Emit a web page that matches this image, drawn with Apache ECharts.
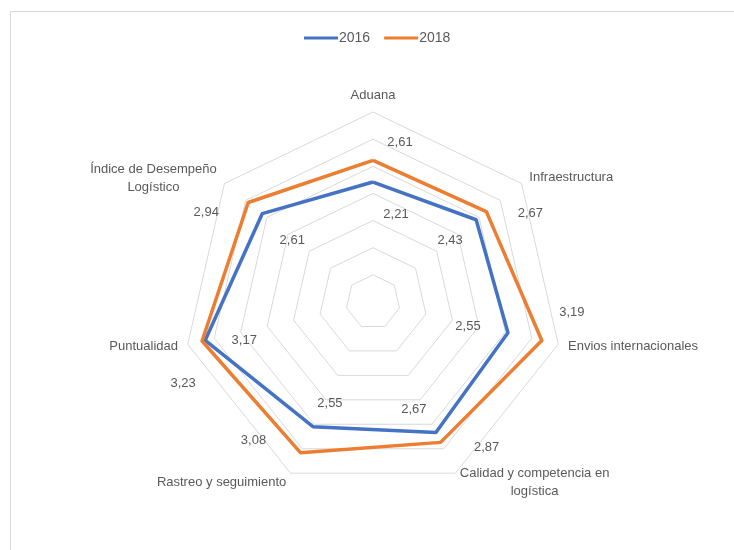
<!DOCTYPE html>
<html>
<head>
<meta charset="utf-8">
<script src="https://cdn.jsdelivr.net/npm/echarts@6/dist/echarts.min.js"></script>
<style>
  html, body { margin: 0; padding: 0; background: #fff; }
  #main { width: 734px; height: 550px; }
</style>
</head>
<body>
<div id="main"></div>
<script>
// indicadores en orden horario empezando por arriba
let indicadores = ['Aduana', 'Infraestructura', 'Envios internacionales',
    'Calidad y competencia en\nlogística', 'Rastreo y seguimiento', 'Puntualidad',
    'Índice de Desempeño\nLogístico'];
let valores2016 = [2.21, 2.43, 2.55, 2.67, 2.55, 3.17, 2.61];
let valores2018 = [2.61, 2.67, 3.19, 2.87, 3.08, 3.23, 2.94];
let anios = ['2016', '2018'];

// echarts pone los indicadores en sentido antihorario, asi que se reordenan
let orden = [0, 6, 5, 4, 3, 2, 1];
let reord = arr => orden.map(i => arr[i]);

let cx = 373, cy = 302;
// desplazamiento de cada etiqueta respecto a su vertice [dx, dy], por serie
let offsets = [
    [[23, 32], [-26, 21], [-40, -6], [-22, -23], [17, -23], [39, 0], [30, 27]],
    [[27, -18], [44, 2], [30, -28], [46, 5], [-47, -12], [-19, 42], [-42, 10]]
];

var myChart = echarts.init(document.getElementById('main'));

function etiquetaLayout(p) {
    let vx = p.rect.x + p.rect.width / 2;
    let vy = p.rect.y + p.rect.height / 2;
    let a = Math.atan2(vx - cx, -(vy - cy)) * 180 / Math.PI;
    if (a < 0) a += 360;
    let k = Math.round(a / (360 / 7)) % 7;
    let o = offsets[p.seriesIndex][k];
    return { x: vx + o[0], y: vy + o[1], align: 'center', verticalAlign: 'middle' };
}

// nombres de dos lineas: segunda linea centrada bajo la primera
function nombreEje(name) {
    let partes = name.split('\n');
    if (partes.length < 2) return name;
    if (name.indexOf('Índice') === 0) {
        return '{a|' + partes[0] + '}\n{b|' + partes[1] + '}';
    }
    return '{c|' + partes[0] + '}\n{d|' + partes[1] + '}';
}
let txt = { color: '#595959', fontSize: 13, fontFamily: 'Liberation Sans' };

let colores = ['#4472C4', '#ED7D31'];
let series = [valores2016, valores2018].map((vals, s) => ({
    type: 'radar',
    name: anios[s],
    symbol: 'circle',
    symbolSize: 1,
    itemStyle: { color: colores[s] },
    lineStyle: { color: colores[s], width: 3.5 },
    label: {
        show: true,
        color: '#595959',
        fontSize: 13,
        fontFamily: 'Liberation Sans',
        formatter: p => p.value.toFixed(2).replace('.', ',')
    },
    labelLayout: etiquetaLayout,
    data: [{ value: reord(vals), name: anios[s] }]
}));

var option = {
    animation: false,
    textStyle: { fontFamily: 'Liberation Sans' },
    legend: {
        data: anios,
        top: 26,
        left: 299,
        icon: 'rect',
        itemWidth: 34,
        itemHeight: 3,
        itemGap: 14,
        textStyle: { color: '#595959', fontSize: 14, padding: [0, 0, 0, -4] }
    },
    radar: {
        center: [cx, cy],
        radius: 190,
        startAngle: 90,
        shape: 'polygon',
        splitNumber: 7,
        indicator: reord(indicadores).map(n => ({ name: n, min: 0, max: 3.5 })),
        axisName: {
            color: '#595959',
            fontSize: 13,
            formatter: nombreEje,
            rich: {
                a: Object.assign({ align: 'center', lineHeight: 20 }, txt),
                b: Object.assign({ align: 'center', lineHeight: 16 }, txt),
                c: Object.assign({ align: 'center', lineHeight: 18 }, txt),
                d: Object.assign({ align: 'center', lineHeight: 18 }, txt)
            }
        },
        nameGap: 10,
        splitLine: { lineStyle: { color: '#d9d9d9', width: 1 } },
        splitArea: { show: false },
        axisLine: { show: false },
        axisTick: { show: false },
        axisLabel: { show: false }
    },
    graphic: [{
        type: 'rect',
        shape: { x: 10.5, y: 11.5, width: 740, height: 560 },
        style: { fill: 'none', stroke: '#d9d9d9', lineWidth: 1 },
        silent: true
    }],
    series: series
};
myChart.setOption(option);
</script>
</body>
</html>
